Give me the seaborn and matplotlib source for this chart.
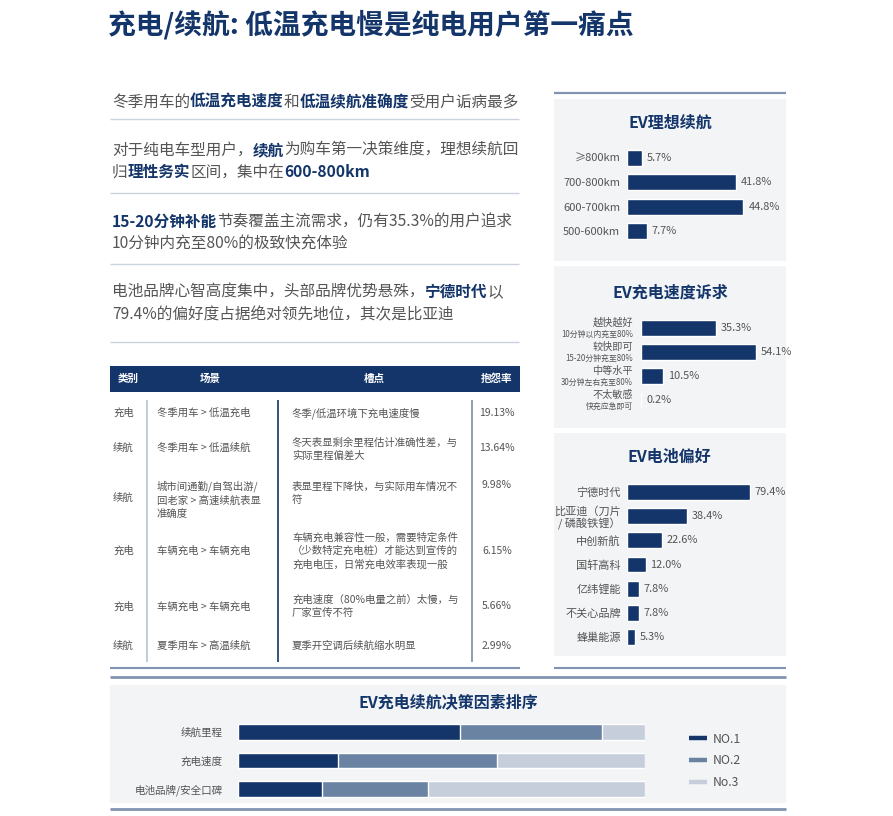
import numpy as np
import pandas as pd
import seaborn as sns
import matplotlib
matplotlib.use('Agg')
import matplotlib.pyplot as plt
from matplotlib.patches import Rectangle
from matplotlib.lines import Line2D
from matplotlib.transforms import offset_copy

# ---------------- data ----------------
TITLE = '充电/续航: 低温充电慢是纯电用户第一痛点'

RANGE_CATS = ['≥800km', '700-800km', '600-700km', '500-600km']
RANGE_VALS = [5.7, 41.8, 44.8, 7.7]

SPEED_CATS = ['越快越好', '较快即可', '中等水平', '不太敏感']
SPEED_SUBS = ['10分钟以内充至80%', '15-20分钟充至80%', '30分钟左右充至80%', '快充应急即可']
SPEED_VALS = [35.3, 54.1, 10.5, 0.2]

BATT_CATS = ['宁德时代', '比亚迪（刀片\n/ 磷酸铁锂）', '中创新航', '国轩高科', '亿纬锂能', '不关心品牌', '蜂巢能源']
BATT_VALS = [79.4, 38.4, 22.6, 12.0, 7.8, 7.8, 5.3]

RANK_CATS = ['续航里程', '充电速度', '电池品牌/安全口碑']
RANK_NO1 = [54.6, 24.6, 20.6]
RANK_NO2 = [34.9, 39.1, 26.0]
RANK_NO3 = [10.5, 36.3, 53.4]
RANK_LABELS = ['NO.1', 'NO.2', 'No.3']

TABLE_HEAD = ['类别', '场景', '槽点', '抱怨率']
TABLE_CATS = ['充电', '续航', '续航', '充电', '充电', '续航']
TABLE_SCENES = ['冬季用车 > 低温充电', '冬季用车 > 低温续航',
                '城市间通勤/自驾出游/\n回老家 > 高速续航表显\n准确度',
                '车辆充电 > 车辆充电', '车辆充电 > 车辆充电', '夏季用车 > 高温续航']
TABLE_PAINS = ['冬季/低温环境下充电速度慢',
               '冬天表显剩余里程估计准确性差，与\n实际里程偏差大',
               '表显里程下降快，与实际用车情况不\n符',
               '车辆充电兼容性一般，需要特定条件\n（少数特定充电桩）才能达到宣传的\n充电电压，日常充电效率表现一般',
               '充电速度（80%电量之前）太慢，与\n厂家宣传不符',
               '夏季开空调后续航缩水明显']
TABLE_RATES = ['19.13%', '13.64%', '9.98%', '6.15%', '5.66%', '2.99%']

PARAS = [
    [[('冬季用车的', 0), ('低温充电速度', 1), ('和', 0), ('低温续航准确度', 1), ('受用户诟病最多', 0)]],
    [[('对于纯电车型用户，', 0), ('续航', 1), ('为购车第一决策维度，理想续航回', 0)],
     [('归', 0), ('理性务实', 1), ('区间，集中在', 0), ('600-800km', 1)]],
    [[('15-20分钟补能', 1), ('节奏覆盖主流需求，仍有35.3%的用户追求', 0)],
     [('10分钟内充至80%的极致快充体验', 0)]],
    [[('电池品牌心智高度集中，头部品牌优势悬殊，', 0), ('宁德时代', 1), ('以', 0)],
     [('79.4%的偏好度占据绝对领先地位，其次是比亚迪', 0)]],
]

# ---------------- style ----------------
NAVY = '#13356a'
MID = '#6a83a3'
LIGHT = '#c6cedb'
GREY = '#555555'
PANEL = '#f3f4f6'
RULE = '#8194af'
SEP = '#c9d3e0'

sns.set_theme(style='white')
plt.rcParams['font.family'] = ['Noto Sans CJK SC', 'DejaVu Sans']
plt.rcParams['axes.unicode_minus'] = False

W, H = 893, 816
fig = plt.figure(figsize=(W / 100, H / 100), dpi=100)
fig.patch.set_facecolor('white')
bg = fig.add_axes([0, 0, 1, 1], zorder=0)
bg.set_xlim(0, W)
bg.set_ylim(H, 0)
bg.axis('off')
renderer = fig.canvas.get_renderer()


def add_ax(x0, y0, x1, y1):
    ax = fig.add_axes([x0 / W, 1 - y1 / H, (x1 - x0) / W, (y1 - y0) / H], zorder=2)
    ax.set_facecolor('none')
    return ax


def hline(y, x0, x1, color, lw):
    bg.plot([x0, x1], [y, y], color=color, lw=lw, solid_capstyle='butt')


def vline(x, y0, y1, color, lw):
    bg.plot([x, x], [y0, y1], color=color, lw=lw, solid_capstyle='butt')


def rect(x0, y0, x1, y1, color):
    bg.add_patch(Rectangle((x0, y0), x1 - x0, y1 - y0, facecolor=color, edgecolor='none'))


# ---------------- title ----------------
bg.text(108, 25, TITLE, fontsize=20, weight='heavy', color=NAVY, va='center', ha='left')

# ---------------- left paragraphs ----------------
line_ys = [[102], [150, 172], [222, 243], [292, 315]]
for para, ys in zip(PARAS, line_ys):
    for segs, y in zip(para, ys):
        x = 112
        for s, b in segs:
            t = bg.text(x, y, s, fontsize=11.25, color=NAVY if b else GREY,
                        weight='bold' if b else 'normal', va='center', ha='left')
            x += t.get_window_extent(renderer).width
for y in [119, 193, 264, 342]:
    hline(y, 110, 519, SEP, 1.0)

# ---------------- table ----------------
rect(110, 366, 520, 392, NAVY)
head_x = [128, 210, 374, 497]
for h, x in zip(TABLE_HEAD, head_x):
    bg.text(x, 379, h, fontsize=7.6, weight='bold', color='white', ha='center', va='center')
vline(147, 400, 662, '#b8c2d2', 1.2)
vline(278, 400, 662, NAVY, 1.2)
vline(472, 400, 662, '#7d8ba3', 1.2)
hline(668, 110, 520, RULE, 1.5)

cat_y = [413, 448, 498, 551, 607, 646]
scene_y = [413, 448, 500, 551, 607, 646]
pain_y = [413, 449, 493, 551, 606, 646]
rate_y = [413, 448, 485, 551, 606, 646]
tkw = dict(fontsize=7.5, color=GREY, va='center', linespacing=1.4)
for i in range(len(TABLE_CATS)):
    bg.text(113, cat_y[i], TABLE_CATS[i], ha='left', **tkw)
    bg.text(157, scene_y[i], TABLE_SCENES[i], ha='left', **tkw)
    bg.text(292, pain_y[i], TABLE_PAINS[i], ha='left', **tkw)
    bg.text(497, rate_y[i], TABLE_RATES[i], ha='center', **tkw)

# ---------------- right panels ----------------
hline(93, 554, 786, RULE, 1.6)
rect(554, 99, 786, 261, PANEL)
rect(554, 266, 786, 428, PANEL)
rect(554, 433, 786, 656, PANEL)
hline(668, 554, 786, RULE, 1.5)

bg.text(670, 123, 'EV理想续航', fontsize=11.5, weight='bold', color=NAVY, ha='center', va='center')
bg.text(670, 293, 'EV充电速度诉求', fontsize=11.5, weight='bold', color=NAVY, ha='center', va='center')
bg.text(669, 457, 'EV电池偏好', fontsize=11.5, weight='bold', color=NAVY, ha='center', va='center')


def hbar(box, cats, vals, xmax, width, pad):
    ax = add_ax(*box)
    df = pd.DataFrame({'cat': cats, 'val': vals})
    sns.barplot(data=df, x='val', y='cat', orient='h', color=NAVY, saturation=1,
                width=width, ax=ax)
    ax.set_xlim(0, xmax)
    ax.set_ylim(len(cats) - 0.5, -0.5)
    for sp in ax.spines.values():
        sp.set_visible(False)
    ax.set_xticks([])
    ax.set_xlabel('')
    ax.set_ylabel('')
    ax.tick_params(axis='y', length=0, pad=pad, labelsize=8, labelcolor=GREY)
    ax.bar_label(ax.containers[0], fmt='%.1f%%', padding=3.5, fontsize=7.9, color=GREY)
    return ax


ax1 = hbar((627, 145.8, 786, 243.2), RANGE_CATS, RANGE_VALS, 159 / 2.6, 0.66, 5)
ax2 = hbar((641, 316, 786, 412), SPEED_CATS, SPEED_VALS, 145 / 2.12, 0.67, 5)
ax2.set_yticks([])
tr_main = offset_copy(ax2.transData, fig=fig, x=-8, y=5.5, units='dots')
tr_sub = offset_copy(ax2.transData, fig=fig, x=-8, y=-6, units='dots')
for i, (c, s) in enumerate(zip(SPEED_CATS, SPEED_SUBS)):
    ax2.text(0, i, c, transform=tr_main, ha='right', va='center', fontsize=7.3, color=GREY)
    ax2.text(0, i, s, transform=tr_sub, ha='right', va='center', fontsize=5.7, color=GREY)
ax3 = hbar((627, 479.9, 786, 649.1), BATT_CATS, BATT_VALS, 159 / 1.55, 0.66, 4.5)
for lab in ax3.get_yticklabels():
    lab.set_multialignment('right')
    lab.set_linespacing(1.15)

# ---------------- bottom stacked panel ----------------
hline(677, 110, 786, RULE, 2.0)
rect(110, 685, 786, 803, PANEL)
hline(809, 110, 786, RULE, 2.0)
bg.text(448, 702, 'EV充电续航决策因素排序', fontsize=11.5, weight='bold', color=NAVY,
        ha='center', va='center')

ax4 = add_ax(238, 717.75, 645, 803.25)
no1 = np.array(RANK_NO1)
no2 = np.array(RANK_NO2)
no3 = np.array(RANK_NO3)
layers = [(no1 + no2 + no3, LIGHT), (no1 + no2, MID), (no1, NAVY)]
for vals, col in layers:
    sns.barplot(x=vals, y=RANK_CATS, orient='h', color=col, saturation=1, width=0.56, ax=ax4)
ax4.set_xlim(0, 100)
ax4.set_ylim(len(RANK_CATS) - 0.5, -0.5)
for sp in ax4.spines.values():
    sp.set_visible(False)
ax4.set_xticks([])
ax4.set_xlabel('')
ax4.set_ylabel('')
ax4.tick_params(axis='y', length=0, pad=11, labelsize=7.6, labelcolor=GREY)

handles = [Line2D([0], [0], color=c, lw=3.2, solid_capstyle='butt') for c in [NAVY, MID, LIGHT]]
fig.legend(handles=handles, labels=RANK_LABELS, loc='center left',
           bbox_to_anchor=(678 / W, 1 - 761 / H), frameon=False, fontsize=8.8,
           handlelength=1.5, handletextpad=0.45, labelspacing=0.72, labelcolor=GREY)

fig.savefig('out.png', dpi=100, facecolor='white')
